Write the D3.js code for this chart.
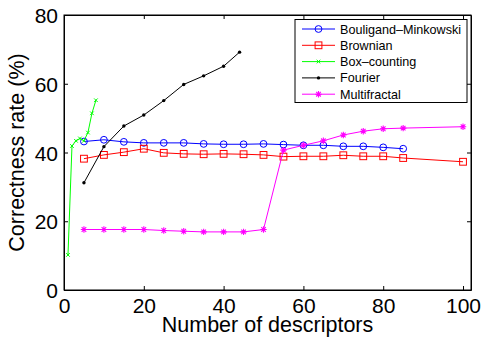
<!DOCTYPE html>
<html><head><meta charset="utf-8">
<script src="https://cdn.jsdelivr.net/npm/d3@7"></script>
<style>body{margin:0;background:#fff}svg{display:block}</style>
</head><body>
<svg id="c" width="482" height="337"></svg>
<script>
const xTicks=[0,20,40,60,80,100];
const yTicks=[0,20,40,60,80];
const seriesNames=["Bouligand\u2013Minkowski","Brownian","Box\u2013counting","Fourier","Multifractal"];
const blueX=[5,10,15,20,25,30,35,40,45,50,55,60,65,70,75,80,85];
const blueY=[43.2,43.7,43.1,42.8,42.8,42.8,42.5,42.4,42.4,42.5,42.3,42.1,42.1,41.8,41.8,41.5,41.1];
const redX=[5,10,15,20,25,30,35,40,45,50,55,60,65,70,75,80,85,100];
const redY=[38.2,39.3,40.1,41.1,39.9,39.6,39.5,39.6,39.5,39.3,38.8,38.9,38.9,39.2,38.9,38.9,38.4,37.3];
const greenX=[1,2,3,4,5,6,7,8];
const greenY=[10.2,41.9,43.4,44.1,43.4,45.8,51.4,55.2];
const blackX=[5,10,15,20,25,30,35,40,44];
const blackY=[31.2,41.7,47.7,50.9,55.1,59.8,62.3,65.1,69.2];
const magX=[5,10,15,20,25,30,35,40,45,50,55,60,65,70,75,80,85,100];
const magY=[17.6,17.6,17.6,17.6,17.3,17.1,16.9,16.9,16.9,17.6,40.7,42.1,43.4,45.1,46.2,46.9,47.1,47.5];

const svg=d3.select("#c");
const L=64,R=471,T=15,B=290;
const x=d3.scaleLinear().domain([0,102]).range([L,R]);
const y=d3.scaleLinear().domain([0,80]).range([B,T]);
const font="Liberation Sans, Arial, Helvetica, sans-serif";

svg.append("rect").attr("x",L).attr("y",T).attr("width",R-L).attr("height",B-T)
  .attr("fill","#fff").attr("stroke","#000").attr("stroke-width",1);

const gx=svg.append("g").attr("transform",`translate(0,${B})`)
  .call(d3.axisBottom(x).tickValues(xTicks).tickSizeInner(-4).tickSizeOuter(0).tickPadding(8));
const gxt=svg.append("g").attr("transform",`translate(0,${T})`)
  .call(d3.axisTop(x).tickValues(xTicks).tickSizeInner(-4).tickSizeOuter(0).tickFormat(""));
const gy=svg.append("g").attr("transform",`translate(${L},0)`)
  .call(d3.axisLeft(y).tickValues(yTicks).tickSizeInner(-4).tickSizeOuter(0).tickPadding(6));
const gyr=svg.append("g").attr("transform",`translate(${R},0)`)
  .call(d3.axisRight(y).tickValues(yTicks).tickSizeInner(-4).tickSizeOuter(0).tickFormat(""));
[gx,gxt,gy,gyr].forEach(g=>{g.select(".domain").attr("stroke","#000");g.selectAll("line").attr("stroke","#000");
  g.selectAll("text").attr("font-family",font).attr("font-size",21).attr("fill","#000");});
gx.selectAll("text").attr("dy","0.71em");
gy.selectAll("text").attr("dy","0.36em");

svg.append("text").attr("x",(L+R)/2).attr("y",332).attr("text-anchor","middle")
  .attr("font-family",font).attr("font-size",21.5).text("Number of descriptors");
svg.append("text").attr("transform",`translate(24,${(T+B)/2}) rotate(-90)`).attr("text-anchor","middle")
  .attr("font-family",font).attr("font-size",21.5).text("Correctness rate (%)");

const line=d3.line().x(d=>x(d[0])).y(d=>y(d[1]));
function drawMarker(g,type,color,cx,cy){
  if(type==="o") g.append("circle").attr("cx",cx).attr("cy",cy).attr("r",3.4).attr("fill","none").attr("stroke",color).attr("stroke-width",1);
  else if(type==="s") g.append("rect").attr("x",cx-3.4).attr("y",cy-3.4).attr("width",6.8).attr("height",6.8).attr("fill","none").attr("stroke",color).attr("stroke-width",1);
  else if(type==="x"){const s=1.8;g.append("path").attr("d",`M${cx-s},${cy-s}L${cx+s},${cy+s}M${cx-s},${cy+s}L${cx+s},${cy-s}`).attr("stroke",color).attr("stroke-width",1);}
  else if(type==="."){g.append("circle").attr("cx",cx).attr("cy",cy).attr("r",1.7).attr("fill",color);}
  else if(type==="*"){const s=3.2,d=2.3;g.append("path").attr("d",`M${cx-s},${cy}L${cx+s},${cy}M${cx},${cy-s}L${cx},${cy+s}M${cx-d},${cy-d}L${cx+d},${cy+d}M${cx-d},${cy+d}L${cx+d},${cy-d}`).attr("stroke",color).attr("stroke-width",1.1);}
}
const series=[
  {xs:blueX,ys:blueY,c:"#0000ff",m:"o"},
  {xs:redX,ys:redY,c:"#ff0000",m:"s"},
  {xs:greenX,ys:greenY,c:"#00ff00",m:"x"},
  {xs:blackX,ys:blackY,c:"#000000",m:"."},
  {xs:magX,ys:magY,c:"#ff00ff",m:"*"}
];
series.forEach(s=>{
  const data=s.xs.map((v,i)=>[v,s.ys[i]]);
  const g=svg.append("g");
  g.append("path").datum(data).attr("d",line).attr("fill","none").attr("stroke",s.c).attr("stroke-width",1);
  data.forEach(d=>drawMarker(g,s.m,s.c,x(d[0]),y(d[1])));
});

const lg=svg.append("g");
lg.append("rect").attr("x",295).attr("y",19.5).attr("width",172).attr("height",83).attr("fill","#fff").attr("stroke","#000").attr("stroke-width",1);
seriesNames.forEach((n,i)=>{
  const yy=29+i*16.3, s=series[i];
  lg.append("line").attr("x1",302).attr("x2",335).attr("y1",yy).attr("y2",yy).attr("stroke",s.c).attr("stroke-width",1);
  drawMarker(lg,s.m,s.c,318.5,yy);
  lg.append("text").attr("x",340).attr("y",yy).attr("dy","0.36em").attr("font-family",font).attr("font-size",12.6).text(n);
});
</script>
</body></html>
